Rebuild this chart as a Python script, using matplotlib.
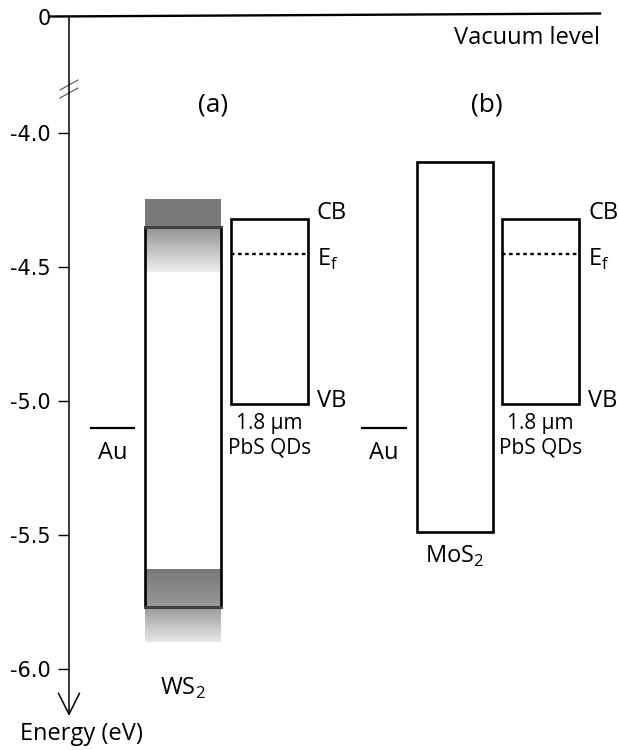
import numpy as np
import matplotlib
matplotlib.use("Agg")
import matplotlib.pyplot as plt
from matplotlib.patches import Rectangle

# band energies (eV)
ws2_cb, ws2_vb = -4.35, -5.77
mos2_cb, mos2_vb = -4.11, -5.49
pbs_cb, pbs_vb, pbs_ef = -4.32, -5.01, -4.45
au_level = -5.10
ws2_top_shade = (-4.25, -4.52)
ws2_bot_shade = (-5.63, -5.90)
tick_values = [-4.0, -4.5, -5.0, -5.5, -6.0]
tick_labels = ["-4.0", "-4.5", "-5.0", "-5.5", "-6.0"]

plt.rcParams["font.family"] = ["Open Sans", "DejaVu Sans"]
plt.rcParams["mathtext.fontset"] = "custom"
plt.rcParams["mathtext.rm"] = "Open Sans"

W, H = 618, 750
fig = plt.figure(figsize=(W / 100, H / 100), dpi=100)
ax = fig.add_axes([0, 0, 1, 1])

# pixel -> energy mapping for the drawing frame
px_per_ev = 268.0
y_ref = 133.0


def e_of(py):
    return -4.0 - (py - y_ref) / px_per_ev


ax.set_xlim(0, W)
ax.set_ylim(e_of(H), e_of(0))
vac_pos = e_of(17)
axis_x = 69
lw_box = 1.9
fs = 17

# axis with ticks
for s in ["top", "right", "bottom", "left"]:
    ax.spines[s].set_visible(False)
ax.spines["left"].set_position(("data", axis_x))
ax.set_xticks([])
ax.set_yticks(tick_values + [vac_pos])
ax.set_yticklabels(tick_labels + ["0"], fontsize=15, family="DejaVu Sans")
ax.tick_params(axis="y", direction="out", length=8, width=1.0, pad=5)
ax.get_yticklines()[-2].set_visible(False)

ax.annotate("", xy=(axis_x, e_of(716)), xytext=(axis_x, vac_pos),
            arrowprops=dict(arrowstyle="->", lw=1.1, mutation_scale=38,
                            shrinkA=0, shrinkB=0, color="black"))
ax.plot([50, 600], [e_of(16.5), e_of(13.5)], color="black", lw=1.7)
ax.text(600, e_of(38), "Vacuum level", ha="right", va="center", fontsize=fs)

# axis break marks
for dy in (0, 8):
    ax.plot([60, 78], [e_of(90 + dy), e_of(80 + dy)], color="#555555", lw=0.8)


# WS2 shading
def shade(x0, x1, e_hi, e_lo, levels_pos, levels_val):
    ys = np.linspace(e_hi, e_lo, 300)
    vals = np.interp(ys, levels_pos, levels_val)
    img = np.repeat(vals[:, None], 2, axis=1)
    ax.imshow(img, cmap="gray", vmin=0, vmax=1, aspect="auto",
              extent=[x0, x1, e_lo, e_hi], origin="upper", zorder=1,
              interpolation="bilinear")


ws2_x = (145, 221)
shade(ws2_x[0], ws2_x[1], ws2_top_shade[0], ws2_top_shade[1],
      [ws2_top_shade[1], ws2_cb - 0.002, ws2_cb, ws2_top_shade[0]],
      [0.93, 0.57, 0.48, 0.48])
shade(ws2_x[0], ws2_x[1], ws2_bot_shade[0], ws2_bot_shade[1],
      [ws2_bot_shade[1], ws2_vb, ws2_bot_shade[0]],
      [0.91, 0.6, 0.47])
ax.add_patch(Rectangle((ws2_x[0], ws2_vb), ws2_x[1] - ws2_x[0], ws2_cb - ws2_vb,
                       fill=False, ec="black", lw=lw_box, zorder=3))
ax.plot(ws2_x, [ws2_cb, ws2_cb], color="#444444", lw=lw_box, zorder=4)
ax.plot(ws2_x, [ws2_vb, ws2_vb], color="#444444", lw=lw_box, zorder=4)
ax.text(183, e_of(688), r"WS$_\mathregular{2}$", ha="center", va="center", fontsize=fs)

# MoS2
mos2_x = (417, 493)
ax.add_patch(Rectangle((mos2_x[0], mos2_vb), mos2_x[1] - mos2_x[0], mos2_cb - mos2_vb,
                       fill=False, ec="black", lw=lw_box, zorder=3))
ax.text(455, e_of(556), r"MoS$_\mathregular{2}$", ha="center", va="center", fontsize=fs)

# PbS QDs and Au for both panels
for px0, au_x in ((231, (91, 134)), (502, (362, 406))):
    px1 = px0 + 77
    ax.add_patch(Rectangle((px0, pbs_vb), px1 - px0, pbs_cb - pbs_vb,
                           fill=False, ec="black", lw=lw_box, zorder=3))
    ax.plot([px0, px1], [pbs_ef, pbs_ef], color="black", lw=1.7, ls=(0, (1.5, 1.5)))
    ax.text(px1 + 9, pbs_cb + 0.02, "CB", ha="left", va="center", fontsize=fs)
    ax.text(px1 + 9, pbs_ef - 0.02, r"E$_\mathregular{f}$", ha="left", va="center", fontsize=fs)
    ax.text(px1 + 9, pbs_vb + 0.01, "VB", ha="left", va="center", fontsize=fs)
    ax.text((px0 + px1) / 2, e_of(424), "1.8 \u00b5m", ha="center", va="center", fontsize=15)
    ax.text((px0 + px1) / 2, e_of(448), "PbS QDs", ha="center", va="center", fontsize=15)
    ax.plot(au_x, [au_level, au_level], color="black", lw=1.6)
    ax.text(sum(au_x) / 2, e_of(453), "Au", ha="center", va="center", fontsize=fs)

ax.text(213, e_of(105), "(a)", ha="center", va="center", fontsize=19)
ax.text(487, e_of(105), "(b)", ha="center", va="center", fontsize=19)
ax.text(81, e_of(734), "Energy (eV)", ha="center", va="center", fontsize=fs)

fig.savefig("out.png", dpi=100)
